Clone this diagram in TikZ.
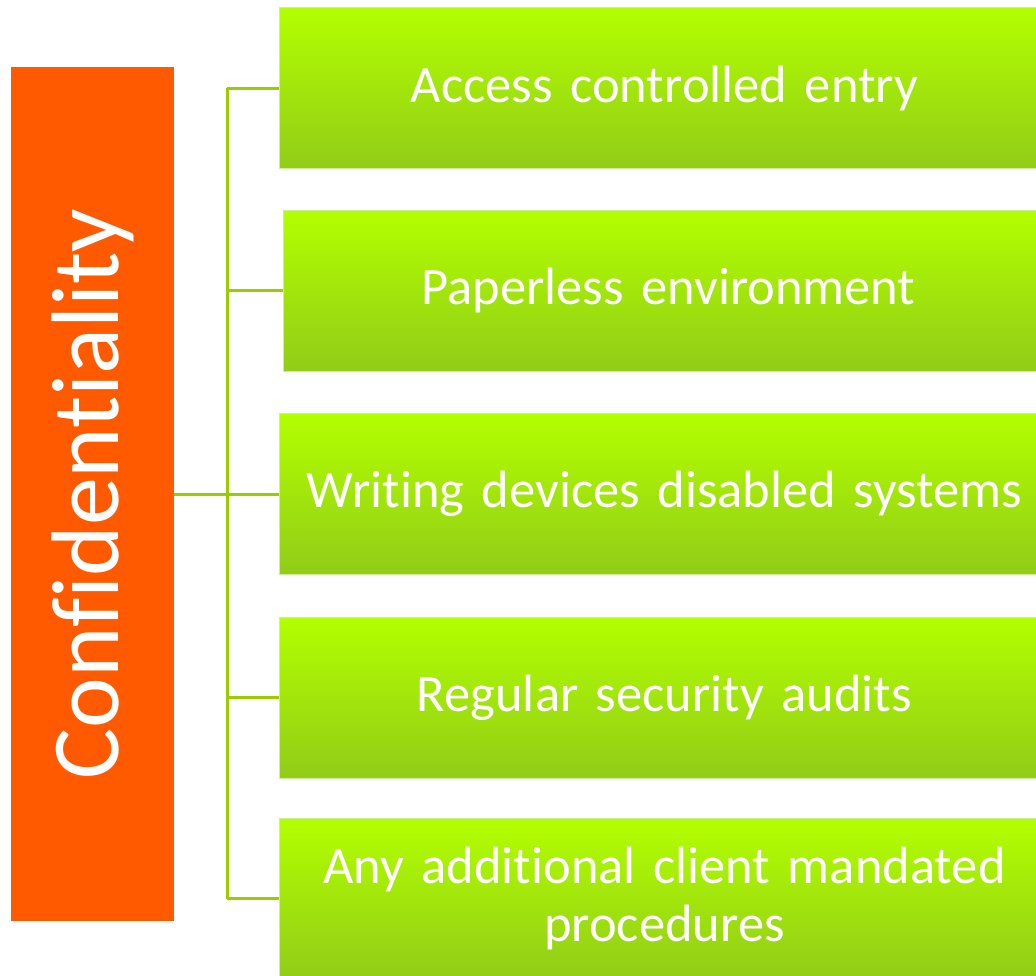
\documentclass[tikz,border=0pt]{standalone}
\usepackage{fontspec}
\setmainfont[Ligatures={NoCommon}, WordSpace=0.6]{Carlito}
\usepackage{tikz}
\usetikzlibrary{positioning,calc}
\definecolor{rootorange}{RGB}{255,90,0}
\definecolor{leaftop}{RGB}{178,255,0}
\definecolor{leafbot}{RGB}{146,204,24}
\definecolor{leafedge}{RGB}{205,240,150}
\definecolor{linkgreen}{RGB}{154,205,0}
\tikzstyle{root} = [rectangle, fill=rootorange, draw=none,
minimum width=163pt, minimum height=854pt, inner sep=0pt,
text=white, font=\fontsize{96}{100}\selectfont]
\tikzstyle{leaf} = [rectangle, top color=leaftop, bottom color=leafbot,
draw=leafedge, line width=1pt,
minimum width=771pt, minimum height=161pt, inner sep=0pt,
text width=760pt, align=center, text=white,
font=\fontsize{52.5}{58}\selectfont]
\tikzstyle{link} = [draw=linkgreen, line width=3pt]

\begin{document}
\begin{tikzpicture}[x=1pt, y=-1pt]
		% рамка рисунка
		\useasboundingbox (0,0) rectangle (1036,976);
		
		% ---- корень ----
		\node[root] (conf) at (92.5,494) {\rotatebox{90}{Confidentiality}};
		
		% ---- пять пунктов ----
		\node[leaf] (entry) at (664.5,88.5) {Access controlled entry};
		\node[leaf] (paper) at (668.5,291) {Paperless environment};
		\node[leaf] (write) at (664.5,494) {Writing devices disabled systems};
		\node[leaf] (audit) at (664.5,697.5) {Regular security audits};
		\node[leaf] (proc) at (664.5,898.5) {Any additional client mandated\\procedures};
		
		% ---- соединения ----
		\coordinate (spine) at (227,0);
		\draw[link] (entry.west -| spine) -- (proc.west -| spine);
		\draw[link] (conf.east) -- (write.west);
		\foreach \n in {entry,paper,audit,proc}
		\draw[link] (\n.west -| spine) -- (\n.west);
		
	\end{tikzpicture}
\end{document}
